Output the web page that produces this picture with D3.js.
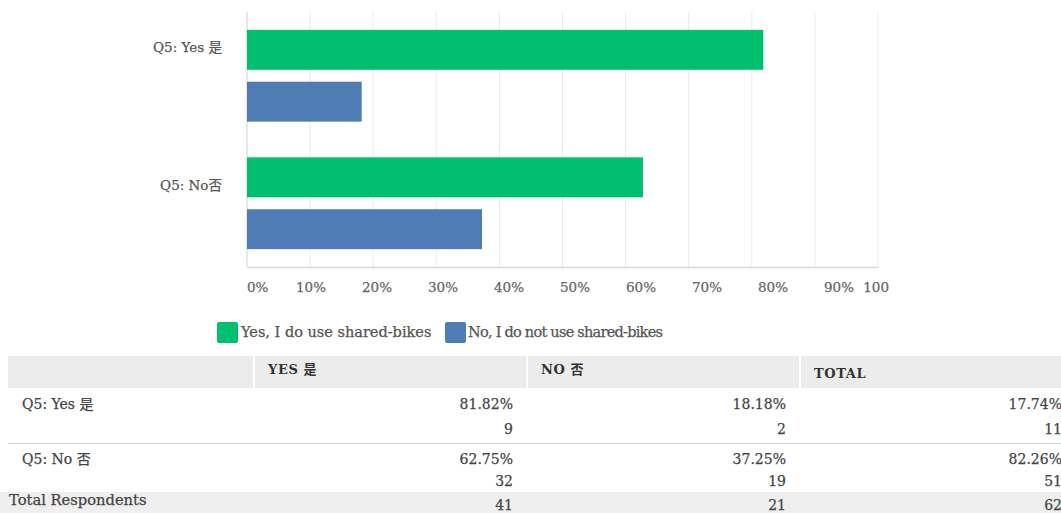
<!DOCTYPE html>
<html>
<head>
<meta charset="utf-8">
<script src="https://cdn.jsdelivr.net/npm/d3@7"></script>
<style>
  html, body { margin: 0; padding: 0; background: #fff; }
  svg { display: block; }
  text { font-family: "DejaVu Serif", "Noto Sans CJK SC", serif; }
  .ink { stroke: currentColor; stroke-width: 0.25px; }
</style>
</head>
<body>
<svg id="chart" width="1061" height="513"></svg>
<script>
// Answer groups (rows) and the two response series
const categories = ["Q5: Yes 是", "Q5: No 否"];
const axisCategoryLabels = ["Q5: Yes 是", "Q5: No否"];
const seriesNames = ["Yes, I do use shared-bikes", "No, I do not use shared-bikes"];
const seriesColors = ["#00bf6f", "#507cb6"];

// Percentages per group for each series
const yesPct = [81.82, 62.75];
const noPct = [18.18, 37.25];
const totalPct = [17.74, 82.26];

// Respondent counts
const yesCount = [9, 32];
const noCount = [2, 19];
const totalCount = [11, 51];
const respondentTotals = [41, 21, 62];

// Axis ticks and their labels
const tickValues = [0, 10, 20, 30, 40, 50, 60, 70, 80, 90, 100];
const tickLabels = ["0%", "10%", "20%", "30%", "40%", "50%", "60%", "70%", "80%", "90%", "100"];

const tableHeaders = ["", "YES 是", "NO 否", "TOTAL"];
const totalRowLabel = "Total Respondents";

const svg = d3.select("#chart");

// ---- Bar chart ----
const plot = { left: 247, right: 878, top: 12, bottom: 267 };

const x = d3.scaleLinear().domain([0, 100]).range([plot.left, plot.right]);
const y0 = d3.scaleBand().domain(categories).range([plot.top, plot.bottom])
  .paddingInner(0.28).paddingOuter(0.14);
const y1 = d3.scaleBand().domain(seriesNames).range([0, y0.bandwidth()]).paddingInner(0.23);
const color = d3.scaleOrdinal().domain(seriesNames).range(seriesColors);

// vertical gridlines
svg.append("g")
  .selectAll("line")
  .data(tickValues.slice(1))
  .join("line")
  .attr("x1", d => x(d)).attr("x2", d => x(d))
  .attr("y1", plot.top).attr("y2", plot.bottom)
  .attr("stroke", "#ebebeb").attr("stroke-width", 1);

// left axis line
svg.append("line")
  .attr("x1", x(0)).attr("x2", x(0))
  .attr("y1", plot.top).attr("y2", plot.bottom)
  .attr("stroke", "#d8d8d8").attr("stroke-width", 1.2);

// bars
const rows = categories.map((c, i) => ({ cat: c, values: [yesPct[i], noPct[i]] }));
const groups = svg.append("g")
  .selectAll("g")
  .data(rows)
  .join("g")
  .attr("transform", d => `translate(0,${y0(d.cat)})`);

groups.selectAll("rect")
  .data(d => d.values.map((v, j) => ({ series: seriesNames[j], value: v })))
  .join("rect")
  .attr("x", x(0))
  .attr("y", d => y1(d.series))
  .attr("width", d => x(d.value) - x(0))
  .attr("height", y1.bandwidth())
  .attr("fill", d => color(d.series));

// bottom axis baseline
const xAxis = d3.axisBottom(x).tickValues(tickValues).tickSize(0).tickFormat("");
const xAxisG = svg.append("g")
  .attr("transform", `translate(0,${plot.bottom})`)
  .call(xAxis);
xAxisG.select(".domain").attr("stroke", "#d8d8d8").attr("stroke-width", 1.4);

// tick labels, spread slightly wider than the grid
const labelX = d3.scaleLinear().domain([0, 100]).range([245, 905]);
svg.append("g")
  .selectAll("text")
  .data(tickValues)
  .join("text")
  .attr("class", "ink")
  .attr("x", (d, i) => i === 0 ? x(d) : (d === 100 ? 889 : labelX(d)))
  .attr("y", 292)
  .attr("text-anchor", (d, i) => i === 0 ? "start" : (d === 100 ? "end" : "middle"))
  .attr("fill", "#666").style("color", "#666")
  .attr("font-size", 13.5)
  .text((d, i) => tickLabels[i]);

// category labels
svg.append("g")
  .selectAll("text")
  .data(categories)
  .join("text")
  .attr("class", "ink")
  .attr("x", 222)
  .attr("y", (d, i) => y0(d) + y0.bandwidth() * 0.25 + (i === 0 ? -1 : 10))
  .attr("text-anchor", "end")
  .attr("fill", "#555").style("color", "#555")
  .attr("font-size", 13.5)
  .text((d, i) => axisCategoryLabels[i]);

// ---- Legend ----
const legendItems = [
  { name: seriesNames[0], sx: 217, tx: 241, spacing: 0 },
  { name: seriesNames[1], sx: 445, tx: 468, spacing: -0.75 }
];
const legend = svg.append("g");
legend.selectAll("rect")
  .data(legendItems)
  .join("rect")
  .attr("x", d => d.sx).attr("y", 322)
  .attr("width", 21).attr("height", 21)
  .attr("rx", 2)
  .attr("fill", d => color(d.name));
legend.selectAll("text")
  .data(legendItems)
  .join("text")
  .attr("class", "ink")
  .attr("x", d => d.tx).attr("y", 337)
  .attr("fill", "#555").style("color", "#555")
  .attr("font-size", 14.5)
  .attr("letter-spacing", d => d.spacing)
  .text(d => d.name);

// ---- Summary table ----
const cols = [
  { x0: 8, x1: 253 },
  { x0: 255, x1: 526 },
  { x0: 528, x1: 799 },
  { x0: 801, x1: 1061 }
];
const numRight = [null, 513, 786, 1062];
const table = svg.append("g");

// header band
table.selectAll("rect.head")
  .data(cols)
  .join("rect")
  .attr("class", "head")
  .attr("x", d => d.x0).attr("y", 356)
  .attr("width", d => d.x1 - d.x0).attr("height", 32)
  .attr("fill", "#ececec");

table.selectAll("text.head")
  .data(tableHeaders)
  .join("text")
  .attr("class", "head")
  .attr("x", (d, i) => cols[i].x0 + 13)
  .attr("y", (d, i) => i === 3 ? 378 : 374)
  .attr("fill", "#333")
  .attr("font-size", 13)
  .attr("font-weight", "bold")
  .attr("letter-spacing", 0.6)
  .text(d => d);

// total row band
table.append("rect")
  .attr("x", 0).attr("y", 492)
  .attr("width", 1061).attr("height", 21)
  .attr("fill", "#efefef");

// separator between rows
table.append("line")
  .attr("x1", 8).attr("x2", 1061)
  .attr("y1", 443.5).attr("y2", 443.5)
  .attr("stroke", "#cfcfcf").attr("stroke-width", 1.2);

const rowBase = [409, 464];
const countBase = [434, 486];
const fmtPct = d => d.toFixed(2) + "%";

function cellText(xPos, yPos, txt, anchor, size) {
  table.append("text")
    .attr("class", "ink")
    .attr("x", xPos).attr("y", yPos)
    .attr("text-anchor", anchor)
    .attr("fill", "#444").style("color", "#444")
    .attr("font-size", size)
    .text(txt);
}

categories.forEach((c, i) => {
  cellText(22, rowBase[i], c, "start", 14);
  const pcts = [yesPct[i], noPct[i], totalPct[i]];
  const counts = [yesCount[i], noCount[i], totalCount[i]];
  pcts.forEach((p, j) => {
    cellText(numRight[j + 1], rowBase[i], fmtPct(p), "end", 14);
    cellText(numRight[j + 1], countBase[i], counts[j], "end", 14);
  });
});

cellText(9, 505, totalRowLabel, "start", 14.7);
respondentTotals.forEach((t, j) => {
  cellText(numRight[j + 1], 510, t, "end", 14);
});
</script>
</body>
</html>
